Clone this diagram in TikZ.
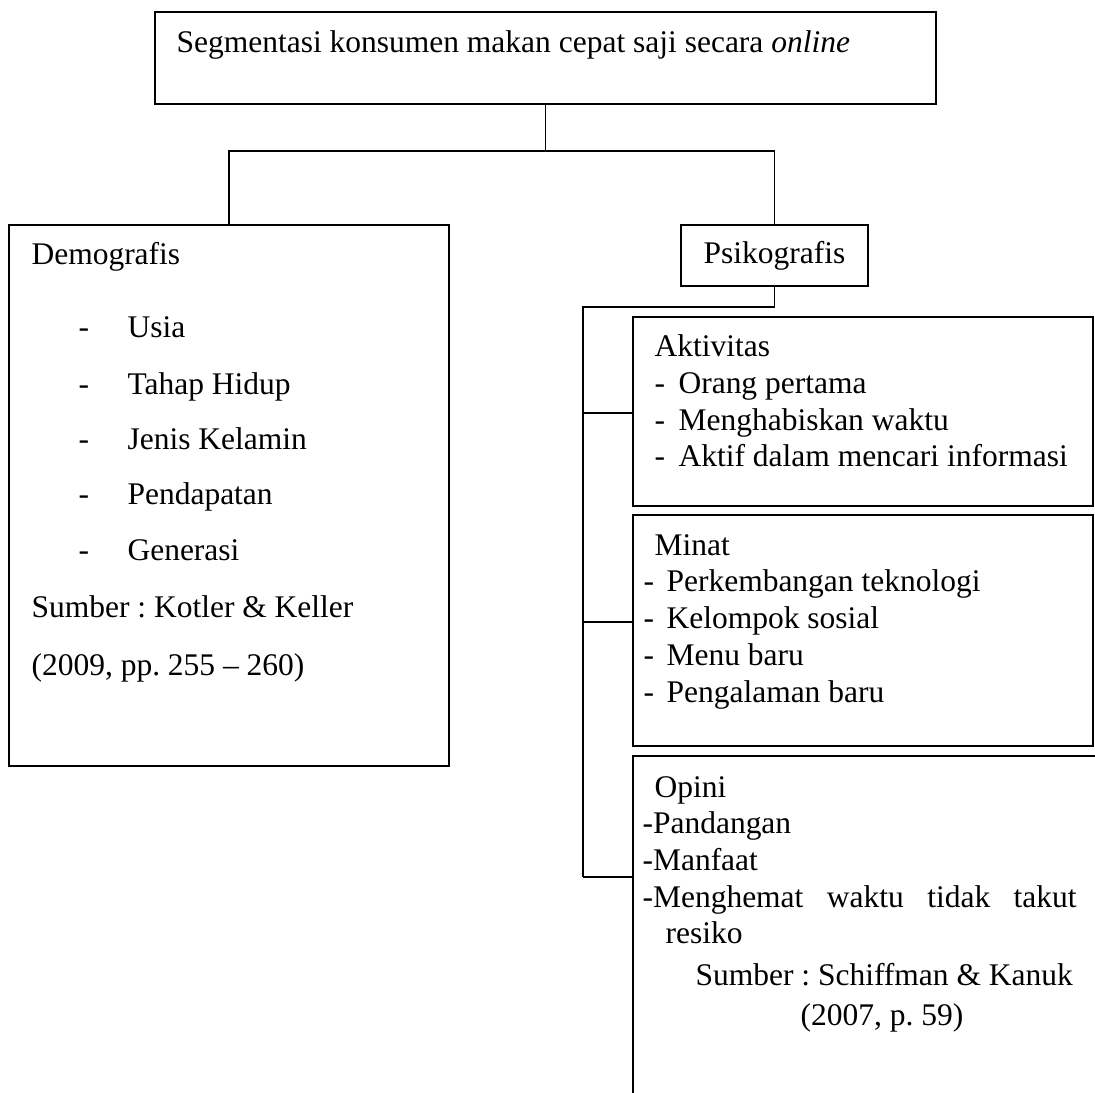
\documentclass[tikz,border=0pt]{standalone}
\usepackage{fontspec}
\setmainfont{Liberation Serif}
\usetikzlibrary{fit,positioning}
\frenchspacing

\begin{document}
\begin{tikzpicture}[x=0.381pt, y=-0.381pt,
  kotak/.style={draw, line width=0.75pt, inner sep=0pt},
  garis/.style={line width=0.75pt},
  teks/.style={anchor=base west, inner sep=0pt, font=\fontsize{12pt}{14pt}\selectfont}]
\useasboundingbox (0,0) rectangle (1095,1093);

% Kotak
\node[kotak, fit={(155,12) (936,104)}] (judul) {};
\node[kotak, fit={(9,225) (449,766)}] (demo) {};
\node[kotak, fit={(681,225) (868,286)}] (psiko) {};
\node[kotak, fit={(633,317) (1093,506)}] (aktiv) {};
\node[kotak, fit={(633,515) (1093,746)}] (minat) {};
\node[kotak, fit={(633,756) (1140,1140)}] (opini) {};

% Judul
\node[teks] (judulTeks) at (176,53) {Segmentasi konsumen makan cepat saji secara \textit{online}};

% Demografis
\node[teks] (demoTeks) at (31,265) {Demografis};
\foreach \i/\y/\isi in {1/338/Usia, 2/395/Tahap Hidup, 3/450/Jenis Kelamin, 4/505/Pendapatan, 5/560/Generasi}
{
  \node[teks] (demoStrip\i) at (78,\y) {-};
  \node[teks] (demoIsi\i) at (127,\y) {\isi};
}
\node[teks] (demoSumber) at (31,617) {Sumber : Kotler \& Keller};
\node[teks] (demoTahun) at (31,675) {(2009, pp. 255 – 260)};

% Psikografis
\node[teks] (psikoTeks) at (703,264) {Psikografis};

% Aktivitas
\node[teks] (aktivTeks) at (654,357) {Aktivitas};
\foreach \i/\y/\isi in {1/394/Orang pertama, 2/431/Menghabiskan waktu, 3/467/Aktif dalam mencari informasi}
{
  \node[teks] (aktivStrip\i) at (654,\y) {-};
  \node[teks] (aktivIsi\i) at (678,\y) {\isi};
}

% Minat
\node[teks] (minatTeks) at (654,555) {Minat};
\foreach \i/\y/\isi in {1/591/Perkembangan teknologi, 2/628/Kelompok sosial, 3/665/Menu baru, 4/702/Pengalaman baru}
{
  \node[teks] (minatStrip\i) at (643,\y) {-};
  \node[teks] (minatIsi\i) at (666,\y) {\isi};
}

% Opini
\node[teks] (opiniTeks) at (654,797) {Opini};
\node[teks] (opiniIsi1) at (642,833) {-Pandangan};
\node[teks] (opiniIsi2) at (642,870) {-Manfaat};
\node[teks] (opiniIsi3) at (642,907) {\makebox[165.4pt][s]{-Menghemat waktu tidak takut}};
\node[teks] (opiniIsi4) at (665,943) {resiko};
\node[teks] (opiniSumber) at (695,985) {Sumber : Schiffman \& Kanuk};
\node[teks] (opiniTahun) at (800,1025) {(2007, p. 59)};

% Garis penghubung
\draw[garis] (judul.south) -- ++(0,46) coordinate (cabang);
\draw[garis] (demo.north) |- (cabang) -| (psiko.north);

\coordinate (batang) at (583,307);
\coordinate (kaitAktiv) at (583,413);
\coordinate (kaitMinat) at (583,622);
\coordinate (kaitOpini) at (583,877);
\draw[garis] (psiko.south) |- (batang) -- (kaitOpini);
\foreach \k/\b in {kaitAktiv/aktiv, kaitMinat/minat, kaitOpini/opini}
  \draw[garis] (\k) -- (\k -| \b.west);
\end{tikzpicture}
\end{document}
